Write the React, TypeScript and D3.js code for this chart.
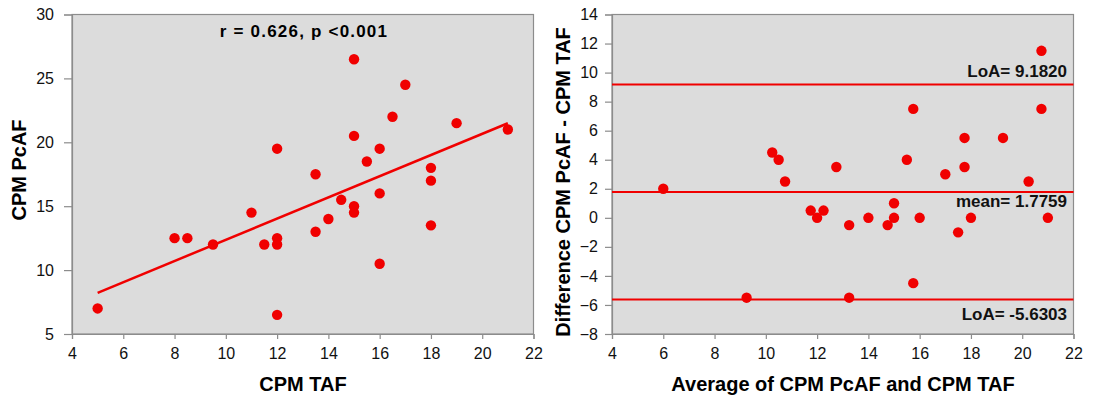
import React, { useEffect, useRef } from 'react';
import * as d3 from 'd3';

// Left panel: correlation (CPM TAF vs CPM PcAF)
const taf = [15, 17, 16.5, 19, 21, 15, 12, 16, 15.5, 18, 13.5, 18, 16, 14.5, 15, 15, 11, 14, 18, 13.5, 8, 8.5, 12, 9.5, 11.5, 12, 16, 5, 12];
const pcaf = [26.5, 24.5, 22, 21.5, 21, 20.5, 19.5, 19.5, 18.5, 18, 17.5, 17, 16, 15.5, 15, 14.5, 14.5, 14, 13.5, 13, 12.5, 12.5, 12.5, 12, 12, 12, 10.5, 7, 6.5];
const fitIntercept = 4.08;
const fitSlope = 0.829;
const fitRange = [5, 21];
const leftXTicks = [4, 6, 8, 10, 12, 14, 16, 18, 20, 22];
const leftYTicks = [5, 10, 15, 20, 25, 30];

// Right panel: Bland-Altman
const avgVals = [6, 10.25, 10.5, 10.75, 12.75, 15.75, 15.5, 17, 17.75, 17.75, 19.25, 20.25, 20.75, 20.75, 11.75, 12, 12.25, 13.25, 14, 14.75, 15, 15, 16, 17.5, 18, 21, 15.75, 9.25, 13.25];
const diffVals = [2, 4.5, 4, 2.5, 3.5, 7.5, 4, 3, 5.5, 3.5, 5.5, 2.5, 11.5, 7.5, 0.5, 0, 0.5, -0.5, 0, -0.5, 1, 0, 0, -1, 0, 0, -4.5, -5.5, -5.5];
const refLines = [
  { value: 9.182, label: 'LoA= 9.1820', dy: -7 },
  { value: 1.7759, label: 'mean= 1.7759', dy: 15 },
  { value: -5.6303, label: 'LoA= -5.6303', dy: 20 },
];
const rightXTicks = [4, 6, 8, 10, 12, 14, 16, 18, 20, 22];
const rightYTicks = [-8, -6, -4, -2, 0, 2, 4, 6, 8, 10, 12, 14];

const RED = '#f00000';
const BG = '#dcdcdc';
const FRAME = '#8c8c8c';
const FONT = '"Liberation Sans", Arial, sans-serif';

const App = () => {
  const svgRef = useRef(null);

  useEffect(() => {
    const svg = d3.select(svgRef.current);
    svg.selectAll('*').remove();

    const top = 14.5;
    const bottom = 334;

    const drawPanel = (xs, ys, xTicks, yTicks, ySize, yPad) => {
      const g = svg.append('g');
      g.append('rect')
        .attr('x', xs.range()[0])
        .attr('y', top)
        .attr('width', xs.range()[1] - xs.range()[0])
        .attr('height', bottom - top)
        .attr('fill', BG)
        .attr('stroke', FRAME)
        .attr('stroke-width', 1.2);

      const xAxis = g.append('g')
        .attr('transform', `translate(0, ${bottom})`)
        .call(d3.axisBottom(xs).tickValues(xTicks).tickSize(5).tickPadding(9).tickFormat(d3.format('d')));
      const yAxis = g.append('g')
        .attr('transform', `translate(${xs.range()[0]}, 0)`)
        .call(d3.axisLeft(ys).tickValues(yTicks).tickSize(ySize).tickPadding(yPad).tickFormat(d3.format('d')));

      [xAxis, yAxis].forEach(a => {
        a.select('.domain').attr('stroke', FRAME).attr('stroke-width', 1.2);
        a.selectAll('.tick line').attr('stroke', FRAME).attr('stroke-width', 1.2);
        a.selectAll('.tick text')
          .attr('fill', '#111')
          .style('font-family', FONT)
          .style('font-size', '16px');
      });
      return g;
    };

    // ---- left panel
    const lx = d3.scaleLinear().domain([4, 22]).range([72, 533.5]);
    const ly = d3.scaleLinear().domain([5, 30]).range([bottom, top]);
    const lg = drawPanel(lx, ly, leftXTicks, leftYTicks, 8, 10);

    const fit = d3.line()
      .x(d => lx(d))
      .y(d => ly(fitIntercept + fitSlope * d));
    lg.append('path')
      .datum(fitRange)
      .attr('fill', 'none')
      .attr('stroke', RED)
      .attr('stroke-width', 2.5)
      .attr('d', fit);

    lg.selectAll('.dot')
      .data(taf)
      .enter()
      .append('circle')
      .attr('cx', d => lx(d))
      .attr('cy', (d, i) => ly(pcaf[i]))
      .attr('r', 5.2)
      .attr('fill', RED);

    lg.append('text')
      .attr('x', 304)
      .attr('y', 36.5)
      .attr('text-anchor', 'middle')
      .style('font-family', FONT)
      .style('font-weight', 'bold')
      .style('font-size', '17px')
      .style('letter-spacing', '1.2px')
      .text('r = 0.626, p <0.001');

    lg.append('text')
      .attr('x', 303)
      .attr('y', 391)
      .attr('text-anchor', 'middle')
      .style('font-family', FONT)
      .style('font-weight', 'bold')
      .style('font-size', '20px')
      .text('CPM TAF');

    lg.append('text')
      .attr('transform', 'translate(26, 170) rotate(-90)')
      .attr('text-anchor', 'middle')
      .style('font-family', FONT)
      .style('font-weight', 'bold')
      .style('font-size', '20px')
      .text('CPM PcAF');

    // ---- right panel
    const rx = d3.scaleLinear().domain([4, 22]).range([612, 1073.5]);
    const ry = d3.scaleLinear().domain([-8, 14]).range([bottom, top]);
    const rg = drawPanel(rx, ry, rightXTicks, rightYTicks, 7, 7);

    rg.selectAll('.ref')
      .data(refLines)
      .enter()
      .append('line')
      .attr('x1', rx(4))
      .attr('x2', rx(22))
      .attr('y1', d => ry(d.value))
      .attr('y2', d => ry(d.value))
      .attr('stroke', RED)
      .attr('stroke-width', 2);

    rg.selectAll('.dot')
      .data(avgVals)
      .enter()
      .append('circle')
      .attr('cx', d => rx(d))
      .attr('cy', (d, i) => ry(diffVals[i]))
      .attr('r', 5.2)
      .attr('fill', RED);

    rg.selectAll('.reflabel')
      .data(refLines)
      .enter()
      .append('text')
      .attr('x', 1067)
      .attr('y', d => ry(d.value) + d.dy)
      .attr('text-anchor', 'end')
      .style('font-family', FONT)
      .style('font-weight', 'bold')
      .style('font-size', '17px')
      .attr('fill', '#111')
      .text(d => d.label);

    rg.append('text')
      .attr('x', 843)
      .attr('y', 391)
      .attr('text-anchor', 'middle')
      .style('font-family', FONT)
      .style('font-weight', 'bold')
      .style('font-size', '20px')
      .text('Average of CPM PcAF and CPM TAF');

    rg.append('text')
      .attr('transform', 'translate(570, 182) rotate(-90)')
      .attr('text-anchor', 'middle')
      .style('font-family', FONT)
      .style('font-weight', 'bold')
      .style('font-size', '20px')
      .text('Difference CPM PcAF - CPM TAF');
  }, []);

  return (
    <svg
      ref={svgRef}
      width={1094}
      height={397}
      style={{ position: 'absolute', left: 0, top: 0, background: '#fff' }}
    />
  );
};

export default App;
